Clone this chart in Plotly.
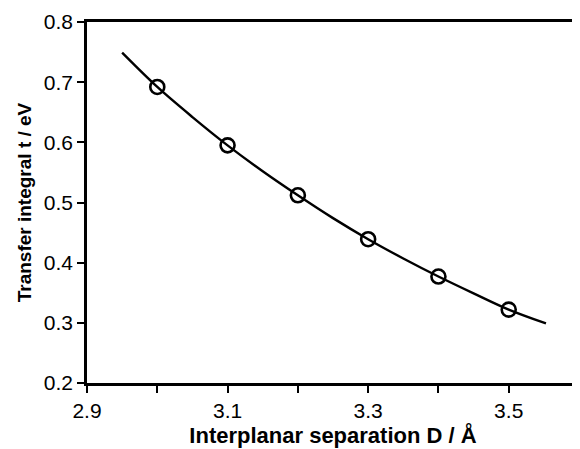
import plotly.graph_objects as go

# Calculated points
sep_points = [3.0, 3.1, 3.2, 3.3, 3.4, 3.5]
t_points = [0.692, 0.595, 0.512, 0.439, 0.377, 0.322]

# Fitted curve
sep_curve = [2.95, 3.0, 3.05, 3.1, 3.15, 3.2, 3.25, 3.3, 3.35, 3.4, 3.45, 3.5, 3.553]
t_curve = [0.749, 0.692, 0.642, 0.595, 0.552, 0.512, 0.474, 0.439, 0.407, 0.377, 0.349, 0.322, 0.299]

x_ticks = [2.9, 3.1, 3.3, 3.5]
y_ticks = [0.2, 0.3, 0.4, 0.5, 0.6, 0.7, 0.8]

fig = go.Figure()
fig.add_trace(go.Scatter(x=sep_curve, y=t_curve, mode="lines",
                         line=dict(color="black", width=2.4, shape="spline"),
                         hoverinfo="skip", showlegend=False))
fig.add_trace(go.Scatter(x=sep_points, y=t_points, mode="markers",
                         marker=dict(symbol="circle-open", size=14, color="black",
                                     line=dict(width=2.6, color="black")),
                         showlegend=False))

font = "Liberation Sans, Arial, sans-serif"
fig.update_layout(
    width=572, height=441,
    margin=dict(l=79, r=1, t=14, b=66),
    paper_bgcolor="white", plot_bgcolor="white",
    font=dict(family=font, color="black", size=21),
    xaxis=dict(range=[2.9, 3.6], tickvals=x_ticks, ticktext=[f"{v:.1f}" for v in x_ticks],
               ticks="outside", ticklen=7, tickwidth=2, tickcolor="black",
               minor=dict(tickvals=[3.0, 3.2, 3.4, 3.6], ticks="outside", ticklen=7, tickwidth=2, tickcolor="black"),
               showline=True, linewidth=2.5, linecolor="black", mirror=True,
               showgrid=False, zeroline=False, automargin=False,
               tickfont=dict(size=21),
               title=dict(text="<b>Interplanar separation D / Å</b>", font=dict(size=22), standoff=4)),
    yaxis=dict(range=[0.2, 0.8], tickvals=y_ticks, ticktext=[f"{v:.1f}" for v in y_ticks],
               ticks="outside", ticklen=7, tickwidth=2, tickcolor="black",
               showline=True, linewidth=2.5, linecolor="black", mirror=True,
               showgrid=False, zeroline=False, automargin=False,
               tickfont=dict(size=21),
               title=dict(text="<b>Transfer integral t / eV</b>", font=dict(size=19), standoff=8)),
)

fig.write_html("out.html")
